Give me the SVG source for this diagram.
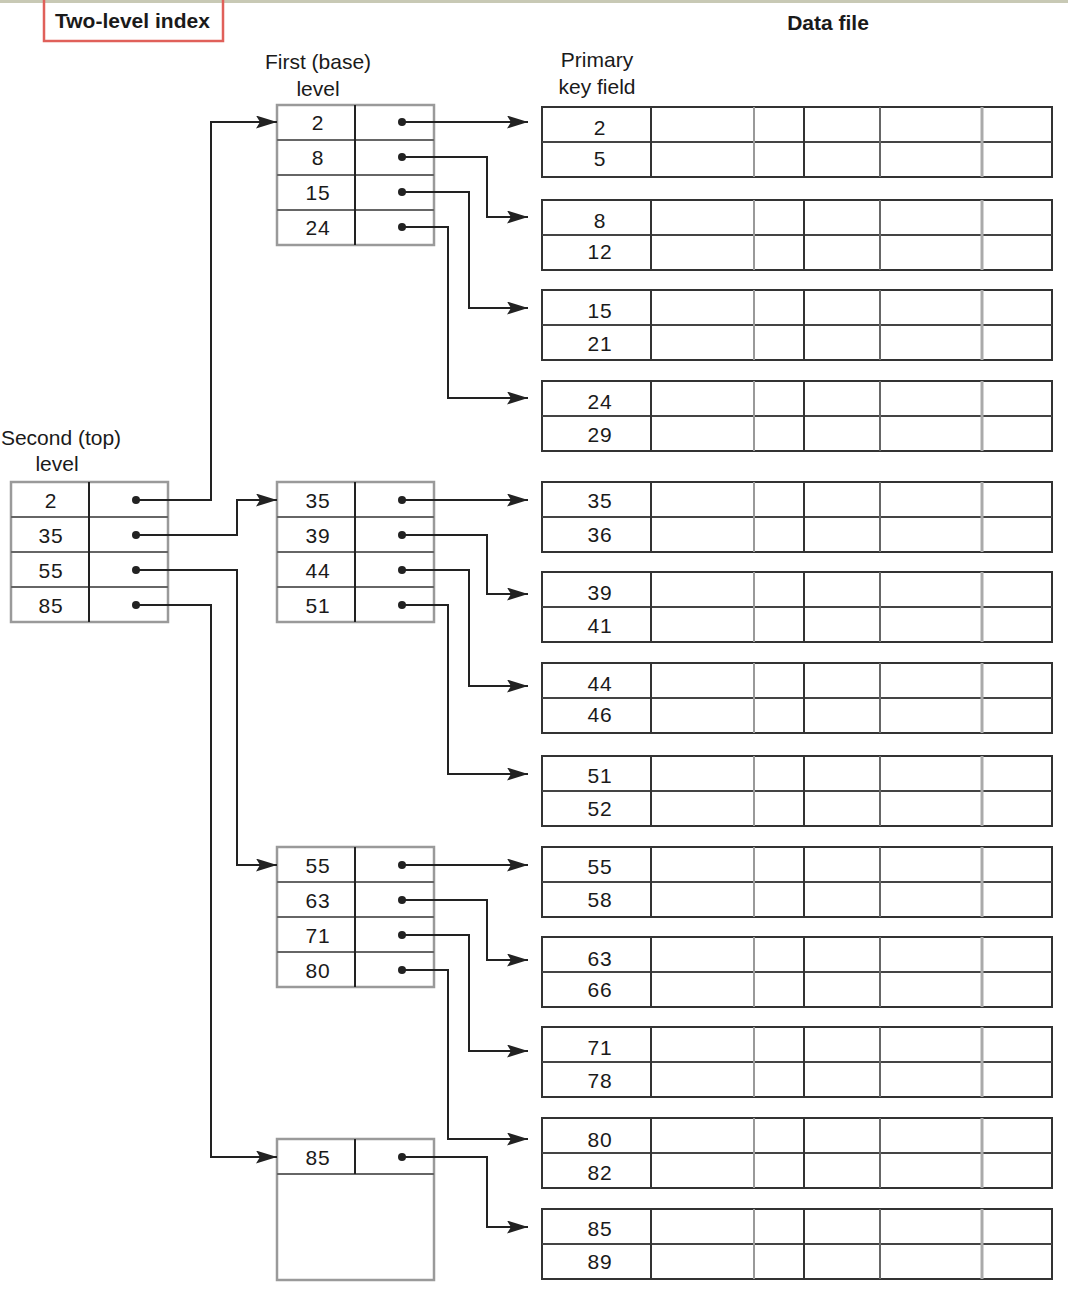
<svg xmlns="http://www.w3.org/2000/svg" width="1068" height="1314" viewBox="0 0 1068 1314">
<defs>
<style>
text{font-family:"Liberation Sans",Arial,sans-serif;fill:#1a1a1a;}
.lbl{font-size:21px;text-anchor:middle;}
.num{font-size:21px;text-anchor:middle;letter-spacing:0.8px;}
.bold{font-weight:bold;font-size:21px;}
.ibox{fill:#fff;stroke:#9a9a9a;stroke-width:2.5;}
.irow{stroke:#666;stroke-width:2;}
.idiv{stroke:#222;stroke-width:2;}
.dbox{fill:#fff;stroke:#333;stroke-width:2;}
.dmid{stroke:#444;stroke-width:2;}
.dk{stroke:#333;stroke-width:2;}
.gr{stroke:#999;stroke-width:2;}
.gr2{stroke:#aaa;stroke-width:3;}
.md{stroke:#666;stroke-width:2;}
.conn path{fill:none;stroke:#222;stroke-width:2;marker-end:url(#arr);}
.dot{fill:#222;}
</style>
<marker id="arr" markerUnits="userSpaceOnUse" markerWidth="24" markerHeight="14" refX="21" refY="6.5" orient="auto">
<path d="M0,0 L21,6.5 L0,13 L4,6.5 z" fill="#222"/>
</marker>
<g id="drow">
<rect class="dbox" x="542" y="0" width="510" height="70"/>
<line class="dmid" x1="542" y1="35" x2="1052" y2="35"/>
<line class="dk" x1="651" y1="0" x2="651" y2="70"/>
<line class="gr" x1="754" y1="0" x2="754" y2="70"/>
<line class="dk" x1="804" y1="0" x2="804" y2="70"/>
<line class="md" x1="880" y1="0" x2="880" y2="70"/>
<line class="gr2" x1="982" y1="0" x2="982" y2="70"/>
</g>
</defs>
<rect x="0" y="0" width="1068" height="1314" fill="#fff"/>
<rect x="0" y="0" width="1068" height="3" fill="#c8c9b5"/>

<g id="title">
<rect x="44" y="-3" width="179" height="44" fill="none" stroke="#e0605a" stroke-width="2.5"/>
<text class="bold" x="55" y="28">Two-level index</text>
</g>
<g id="labels">
<text class="bold" x="828" y="30" text-anchor="middle">Data file</text>
<text class="lbl" x="318" y="69">First (base)</text>
<text class="lbl" x="318" y="96">level</text>
<text class="lbl" x="597" y="67">Primary</text>
<text class="lbl" x="597" y="94">key field</text>
<text class="lbl" x="61" y="445">Second (top)</text>
<text class="lbl" x="57" y="471">level</text>
</g>

<g id="second-level">
<rect class="ibox" x="11" y="482" width="157" height="140"/>
<line class="irow" x1="11" y1="517" x2="168" y2="517"/>
<line class="irow" x1="11" y1="552" x2="168" y2="552"/>
<line class="irow" x1="11" y1="587" x2="168" y2="587"/>
<line class="idiv" x1="89" y1="482" x2="89" y2="622"/>
<text class="num" x="51" y="508">2</text>
<text class="num" x="51" y="543">35</text>
<text class="num" x="51" y="578">55</text>
<text class="num" x="51" y="613">85</text>
<circle class="dot" cx="136" cy="500" r="4"/>
<circle class="dot" cx="136" cy="535" r="4"/>
<circle class="dot" cx="136" cy="570" r="4"/>
<circle class="dot" cx="136" cy="605" r="4"/>
</g>

<g id="first-level-1">
<rect class="ibox" x="277" y="105" width="157" height="140"/>
<line class="irow" x1="277" y1="140" x2="434" y2="140"/>
<line class="irow" x1="277" y1="175" x2="434" y2="175"/>
<line class="irow" x1="277" y1="210" x2="434" y2="210"/>
<line class="idiv" x1="355" y1="105" x2="355" y2="245"/>
<text class="num" x="318" y="130">2</text>
<text class="num" x="318" y="165">8</text>
<text class="num" x="318" y="200">15</text>
<text class="num" x="318" y="235">24</text>
<circle class="dot" cx="402" cy="122" r="4"/>
<circle class="dot" cx="402" cy="157" r="4"/>
<circle class="dot" cx="402" cy="192" r="4"/>
<circle class="dot" cx="402" cy="227" r="4"/>
</g>

<g id="first-level-2">
<rect class="ibox" x="277" y="482" width="157" height="140"/>
<line class="irow" x1="277" y1="517" x2="434" y2="517"/>
<line class="irow" x1="277" y1="552" x2="434" y2="552"/>
<line class="irow" x1="277" y1="587" x2="434" y2="587"/>
<line class="idiv" x1="355" y1="482" x2="355" y2="622"/>
<text class="num" x="318" y="508">35</text>
<text class="num" x="318" y="543">39</text>
<text class="num" x="318" y="578">44</text>
<text class="num" x="318" y="613">51</text>
<circle class="dot" cx="402" cy="500" r="4"/>
<circle class="dot" cx="402" cy="535" r="4"/>
<circle class="dot" cx="402" cy="570" r="4"/>
<circle class="dot" cx="402" cy="605" r="4"/>
</g>

<g id="first-level-3">
<rect class="ibox" x="277" y="847" width="157" height="140"/>
<line class="irow" x1="277" y1="882" x2="434" y2="882"/>
<line class="irow" x1="277" y1="917" x2="434" y2="917"/>
<line class="irow" x1="277" y1="952" x2="434" y2="952"/>
<line class="idiv" x1="355" y1="847" x2="355" y2="987"/>
<text class="num" x="318" y="873">55</text>
<text class="num" x="318" y="908">63</text>
<text class="num" x="318" y="943">71</text>
<text class="num" x="318" y="978">80</text>
<circle class="dot" cx="402" cy="865" r="4"/>
<circle class="dot" cx="402" cy="900" r="4"/>
<circle class="dot" cx="402" cy="935" r="4"/>
<circle class="dot" cx="402" cy="970" r="4"/>
</g>

<g id="first-level-4">
<rect class="ibox" x="277" y="1139" width="157" height="141"/>
<line class="irow" x1="277" y1="1174" x2="434" y2="1174"/>
<line class="idiv" x1="355" y1="1139" x2="355" y2="1174"/>
<text class="num" x="318" y="1165">85</text>
<circle class="dot" cx="402" cy="1157" r="4"/>
</g>

<g id="data-file">
<g id="d1"><use href="#drow" y="107"/><text class="num" x="600" y="135">2</text><text class="num" x="600" y="166">5</text></g>
<g id="d2"><use href="#drow" y="200"/><text class="num" x="600" y="228">8</text><text class="num" x="600" y="259">12</text></g>
<g id="d3"><use href="#drow" y="290"/><text class="num" x="600" y="318">15</text><text class="num" x="600" y="351">21</text></g>
<g id="d4"><use href="#drow" y="381"/><text class="num" x="600" y="409">24</text><text class="num" x="600" y="442">29</text></g>
<g id="d5"><use href="#drow" y="482"/><text class="num" x="600" y="508">35</text><text class="num" x="600" y="542">36</text></g>
<g id="d6"><use href="#drow" y="572"/><text class="num" x="600" y="600">39</text><text class="num" x="600" y="633">41</text></g>
<g id="d7"><use href="#drow" y="663"/><text class="num" x="600" y="691">44</text><text class="num" x="600" y="722">46</text></g>
<g id="d8"><use href="#drow" y="756"/><text class="num" x="600" y="783">51</text><text class="num" x="600" y="816">52</text></g>
<g id="d9"><use href="#drow" y="847"/><text class="num" x="600" y="874">55</text><text class="num" x="600" y="907">58</text></g>
<g id="d10"><use href="#drow" y="937"/><text class="num" x="600" y="966">63</text><text class="num" x="600" y="997">66</text></g>
<g id="d11"><use href="#drow" y="1027"/><text class="num" x="600" y="1055">71</text><text class="num" x="600" y="1088">78</text></g>
<g id="d12"><use href="#drow" y="1118"/><text class="num" x="600" y="1147">80</text><text class="num" x="600" y="1180">82</text></g>
<g id="d13"><use href="#drow" y="1209"/><text class="num" x="600" y="1236">85</text><text class="num" x="600" y="1269">89</text></g>
</g>

<g id="connectors" class="conn">
<path d="M136,500 H211 V122 H277"/>
<path d="M136,535 H237 V500 H277"/>
<path d="M136,570 H237 V865 H277"/>
<path d="M136,605 H211 V1157 H277"/>
<path d="M402,122 H528"/>
<path d="M402,157 H487 V217 H528"/>
<path d="M402,192 H469 V308 H528"/>
<path d="M402,227 H448 V398 H528"/>
<path d="M402,500 H528"/>
<path d="M402,535 H487 V594 H528"/>
<path d="M402,570 H469 V686 H528"/>
<path d="M402,605 H448 V774 H528"/>
<path d="M402,865 H528"/>
<path d="M402,900 H487 V960 H528"/>
<path d="M402,935 H469 V1051 H528"/>
<path d="M402,970 H448 V1139 H528"/>
<path d="M402,1157 H487 V1227 H528"/>
</g>
</svg>
